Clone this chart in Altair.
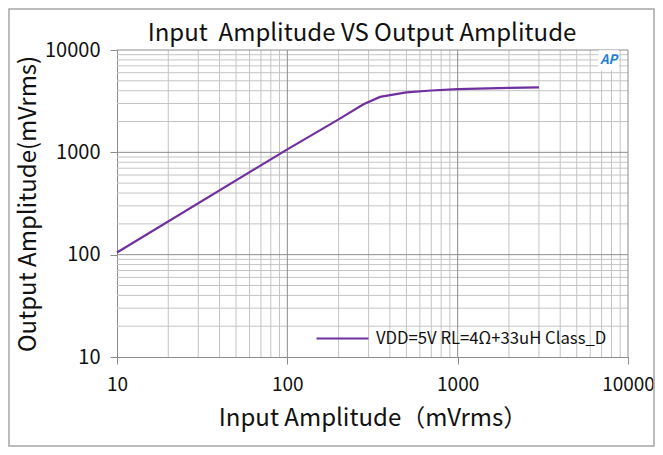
import altair as alt
import pandas as pd

# data
x_in = [10, 100, 200, 280, 350, 500, 700, 1000, 2000, 3000]
y_out = [105, 1070, 2100, 2950, 3480, 3850, 4020, 4150, 4270, 4320]
series_name = "VDD=5V RL=4Ω+33uH Class_D"

major_ticks = [10, 100, 1000, 10000]
minor_ticks = [m * d for d in [10, 100, 1000] for m in range(2, 10)]

FONT = "Noto Sans CJK SC"
W, H = 511, 307

df = pd.DataFrame({"x": x_in, "y": y_out, "s": [series_name] * len(x_in)})

xs = alt.Scale(type="log", domain=[10, 10000], nice=False)
ys = alt.Scale(type="log", domain=[10, 10000], nice=False)

x_axis = alt.Axis(values=major_ticks, format="d", grid=False,
                  title="Input Amplitude（mVrms）",
                  titleFontSize=24, titleFont=FONT, titleFontWeight="normal",
                  titleColor="#111", titlePadding=12,
                  labelFontSize=19, labelFont=FONT, labelColor="#111",
                  labelPadding=11, tickSize=7, tickColor="#8c8c8c",
                  domainColor="#8c8c8c", labelFlush=False, labelOverlap=False)
y_axis = alt.Axis(values=major_ticks, format="d", grid=False,
                  title="Output Amplitude(mVrms)",
                  titleFontSize=24, titleFont=FONT, titleFontWeight="normal",
                  titleColor="#111", titlePadding=4,
                  labelFontSize=20, labelFont=FONT, labelColor="#111",
                  labelPadding=10, tickSize=7, tickColor="#8c8c8c",
                  domainColor="#8c8c8c", labelFlush=False, labelOverlap=False)

minor_df = pd.DataFrame({"v": minor_ticks})
major_df = pd.DataFrame({"v": [100, 1000, 10000]})

vminor = alt.Chart(minor_df).mark_rule(color="#c4c4c4", strokeWidth=1).encode(
    x=alt.X("v:Q", scale=xs, axis=x_axis))
hminor = alt.Chart(minor_df).mark_rule(color="#c4c4c4", strokeWidth=1).encode(
    y=alt.Y("v:Q", scale=ys, axis=y_axis))
vmajor = alt.Chart(major_df).mark_rule(color="#8c8c8c", strokeWidth=1).encode(
    x=alt.X("v:Q", scale=xs, axis=x_axis))
hmajor = alt.Chart(major_df).mark_rule(color="#8c8c8c", strokeWidth=1).encode(
    y=alt.Y("v:Q", scale=ys, axis=y_axis))

line = alt.Chart(df).mark_line(strokeWidth=2.2).encode(
    x=alt.X("x:Q", scale=xs, axis=x_axis),
    y=alt.Y("y:Q", scale=ys, axis=y_axis),
    color=alt.Color("s:N", scale=alt.Scale(domain=[series_name], range=["#7030A0"]),
                    legend=alt.Legend(title=None, orient="none", legendX=198, legendY=261,
                                      symbolType="stroke", symbolSize=2704,
                                      symbolStrokeWidth=2.2, labelFont=FONT,
                                      labelFontSize=16.7, labelColor="#111",
                                      labelLimit=0, labelOffset=6)),
)

logo_df = pd.DataFrame({"x": [7700], "y": [7900], "t": ["AP"]})
logo_bg = alt.Chart(logo_df).mark_point(shape="square", filled=True, color="white",
                                        size=420, opacity=1).encode(
    x=alt.X("x:Q", scale=xs, axis=x_axis), y=alt.Y("y:Q", scale=ys, axis=y_axis))
logo = alt.Chart(logo_df).mark_text(font=FONT, fontSize=13, fontWeight="bold",
                                    fontStyle="italic", color="#1f7fd0").encode(
    x=alt.X("x:Q", scale=xs, axis=x_axis), y=alt.Y("y:Q", scale=ys, axis=y_axis), text="t:N")

title_df = pd.DataFrame({"t": ["Input\u00a0 Amplitude VS Output Amplitude"]})
title = alt.Chart(title_df).mark_text(font=FONT, fontSize=24, color="#111",
                                      align="center", baseline="alphabetic").encode(
    x=alt.value(245), y=alt.value(-9), text="t:N")

border = alt.Chart(title_df).mark_rect(fill=None, stroke="#a6a6a6", strokeWidth=1.5).encode(
    x=alt.value(-108), x2=alt.value(537), y=alt.value(-41), y2=alt.value(396))

chart = alt.layer(vminor, hminor, vmajor, hmajor, line, logo_bg, logo, title, border).properties(
    width=W, height=H,
    padding={"left": 109, "top": 42, "right": 27, "bottom": 90},
    autosize=alt.AutoSizeParams(type="none"),
    background="white",
).configure_view(stroke=None)

chart.save("out.html", embed_options={"renderer": "svg", "actions": False})
